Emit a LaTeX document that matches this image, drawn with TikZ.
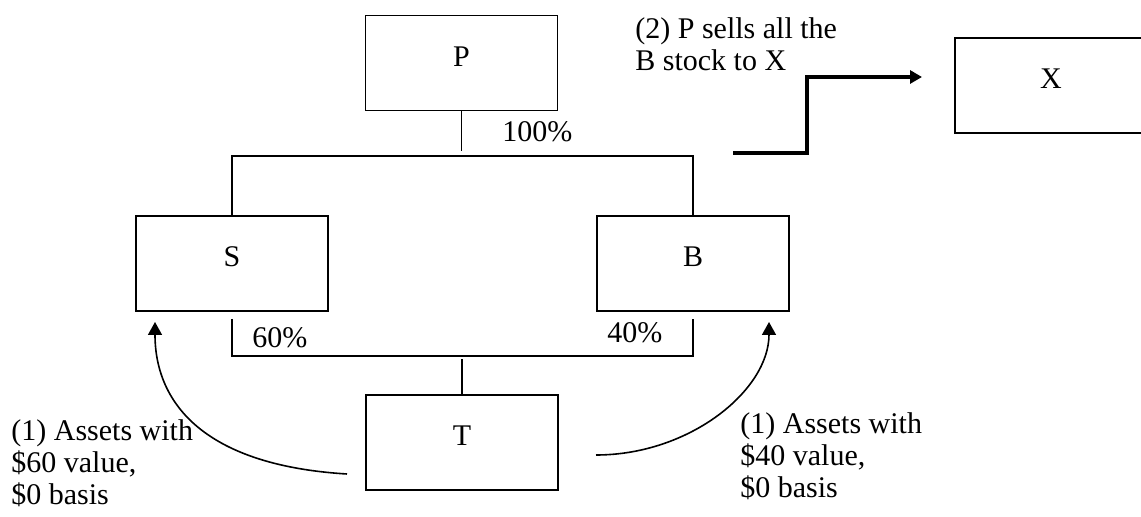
\documentclass[tikz,border=0pt]{standalone}
\usepackage{fontspec}
\setmainfont{Liberation Serif}
\usetikzlibrary{arrows.meta,calc}
\begin{document}
\begin{tikzpicture}[x=0.5pt,y=-0.5pt,
  txt/.style={font=\fontsize{15pt}{16pt}\selectfont, inner sep=0pt},
  entity/.style={txt, draw, line width=0.8pt, minimum width=96pt,
    text height=25.5pt, text depth=22pt},
  link/.style={line width=0.8pt},
  sell/.style={line width=2pt, -{Triangle[length=6pt,width=6.5pt]}},
  transfer/.style={line width=0.8pt, -{Triangle[length=6.5pt,width=7pt]}},
  note/.style={txt, align=left, anchor=base west}]
\useasboundingbox (0,0) rectangle (1141,517);
% entities
\node[entity] (P) at (461.5,63) {P};
\node[entity] (S) at (232,263.5) {S};
\node[entity] (B) at (693,263.5) {B};
\node[entity] (T) at (462,442.5) {T};
\node[entity] (X) at (1051,85.5) {X};
% ownership lines
\coordinate (bar) at (0,156);
\coordinate (bbar) at (0,356);
\draw[link, shorten >=2.5pt] (P.south) -- (P.south |- bar);
\draw[link] (S.north) -- (S.north |- bar) -- (B.north |- bar) -- (B.north);
\draw[link, shorten <=3.5pt, shorten >=3.5pt] (S.south) -- (S.south |- bbar) -- (B.south |- bbar) -- (B.south);
\draw[link, shorten >=1.5pt] (T.north) -- (T.north |- bbar);
% percentages
\node[txt, anchor=base west] (p100) at (502,142) {100\%};
\node[txt, anchor=base west] (p60) at (252,348) {60\%};
\node[txt, anchor=base west] (p40) at (607,343) {40\%};
% sale arrow
\coordinate (sellstart) at (733,153);
\coordinate (sellend) at (922,77);
\draw[sell] (sellstart) -- ++(74,0) |- (sellend);
\node[note] (sellnote) at (635,71) {(2) P sells all the\\B stock to X};
% asset transfers
\coordinate (a1s) at (347,474);
\coordinate (a1e) at (155,322);
\draw[transfer] (a1s) .. controls (200,465) and (155,400) .. (a1e);
\coordinate (a2s) at (596,455);
\coordinate (a2e) at (769,322);
\draw[transfer] (a2s) .. controls (690,455) and (769,390) .. (a2e);
\node[note] (n60) at (11,505) {(1) Assets with\\\$60 value,\\\$0 basis};
\node[note] (n40) at (740,498) {(1) Assets with\\\$40 value,\\\$0 basis};
\end{tikzpicture}
\end{document}
